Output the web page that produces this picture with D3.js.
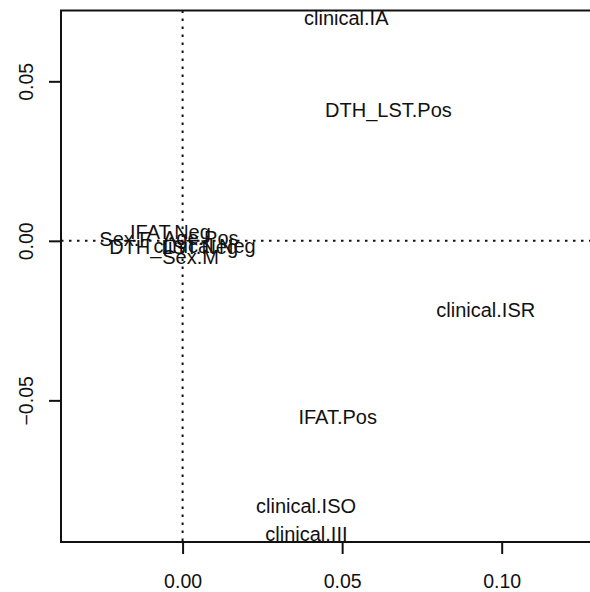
<!DOCTYPE html>
<html>
<head>
<meta charset="utf-8">
<script src="https://cdn.jsdelivr.net/npm/d3@7"></script>
<style>
  body { margin: 0; background: #fff; }
  text { font-family: "Liberation Sans", Arial, sans-serif; fill: #111; }
</style>
</head>
<body>
<svg width="590" height="592"></svg>
<script>
const svg = d3.select("svg");

// category labels and their coordinates
const labels = ["clinical.IA", "DTH_LST.Pos", "clinical.ISR", "IFAT.Pos", "clinical.ISO", "clinical.III",
  "Sex.F", "IFAT.Neg", "Age.Pos", "DTH_LST.Neg", "clinical.Neg", "Sex.M"];
const dim1 = [0.0513, 0.0645, 0.0950, 0.0486, 0.0387, 0.0388,
  -0.0179, -0.0038, 0.0057, -0.0028, 0.0069, 0.0025];
const dim2 = [0.0699, 0.0411, -0.0216, -0.0551, -0.0831, -0.0918,
  0.0006, 0.0028, 0.0009, -0.0019, -0.0016, -0.0050];

const xTicks = [0.00, 0.05, 0.10];
const yTicks = [-0.05, 0.00, 0.05];

const margin = { top: 10.5, right: -2, bottom: 50, left: 61 };
const width = +svg.attr("width");
const height = +svg.attr("height");
const innerWidth = width - margin.left - margin.right;
const innerHeight = height - margin.top - margin.bottom;

const xScale = d3.scaleLinear().domain([-0.0381, 0.1283]).range([0, innerWidth]);
const yScale = d3.scaleLinear().domain([-0.0944, 0.0722]).range([innerHeight, 0]);

const g = svg.append("g")
  .attr("transform", `translate(${margin.left}, ${margin.top})`);

// dotted reference lines through the origin
g.append("line")
  .attr("x1", xScale(0)).attr("x2", xScale(0))
  .attr("y1", 0).attr("y2", innerHeight)
  .attr("stroke", "#111").attr("stroke-width", 2)
  .attr("stroke-dasharray", "2.5,5.5");
g.append("line")
  .attr("x1", 0).attr("x2", innerWidth)
  .attr("y1", yScale(0)).attr("y2", yScale(0))
  .attr("stroke", "#111").attr("stroke-width", 2)
  .attr("stroke-dasharray", "2.5,5.5");

// labels
g.selectAll("text.lab")
  .data(labels)
  .join("text")
  .attr("class", "lab")
  .attr("x", (d, i) => xScale(dim1[i]))
  .attr("y", (d, i) => yScale(dim2[i]))
  .attr("text-anchor", "middle")
  .attr("dy", "0.36em")
  .attr("font-size", 20)
  .text((d) => d);

// box
g.append("rect")
  .attr("width", innerWidth).attr("height", innerHeight)
  .attr("fill", "none").attr("stroke", "#111").attr("stroke-width", 2);

// axes
const xAxis = d3.axisBottom(xScale).tickValues(xTicks)
  .tickFormat(d3.format(".2f")).tickSize(12).tickPadding(20);
const xAxisG = g.append("g")
  .attr("transform", `translate(0, ${innerHeight})`)
  .call(xAxis);
xAxisG.select(".domain").remove();
xAxisG.selectAll(".tick line").attr("stroke", "#111").attr("stroke-width", 2);
xAxisG.selectAll(".tick text").attr("font-size", 19.5).attr("fill", "#111")
  .style("font-family", '"Liberation Sans", Arial, sans-serif');

const yAxis = d3.axisLeft(yScale).tickValues(yTicks)
  .tickFormat(d3.format(".2f")).tickSize(12).tickPadding(0);
const yAxisG = g.append("g").call(yAxis);
yAxisG.select(".domain").remove();
yAxisG.selectAll(".tick line").attr("stroke", "#111").attr("stroke-width", 2);
yAxisG.selectAll(".tick text")
  .attr("x", 0).attr("dy", 0)
  .attr("transform", "translate(-28,0) rotate(-90)")
  .attr("text-anchor", "middle")
  .attr("font-size", 19.5).attr("fill", "#111")
  .style("font-family", '"Liberation Sans", Arial, sans-serif');
</script>
</body>
</html>
